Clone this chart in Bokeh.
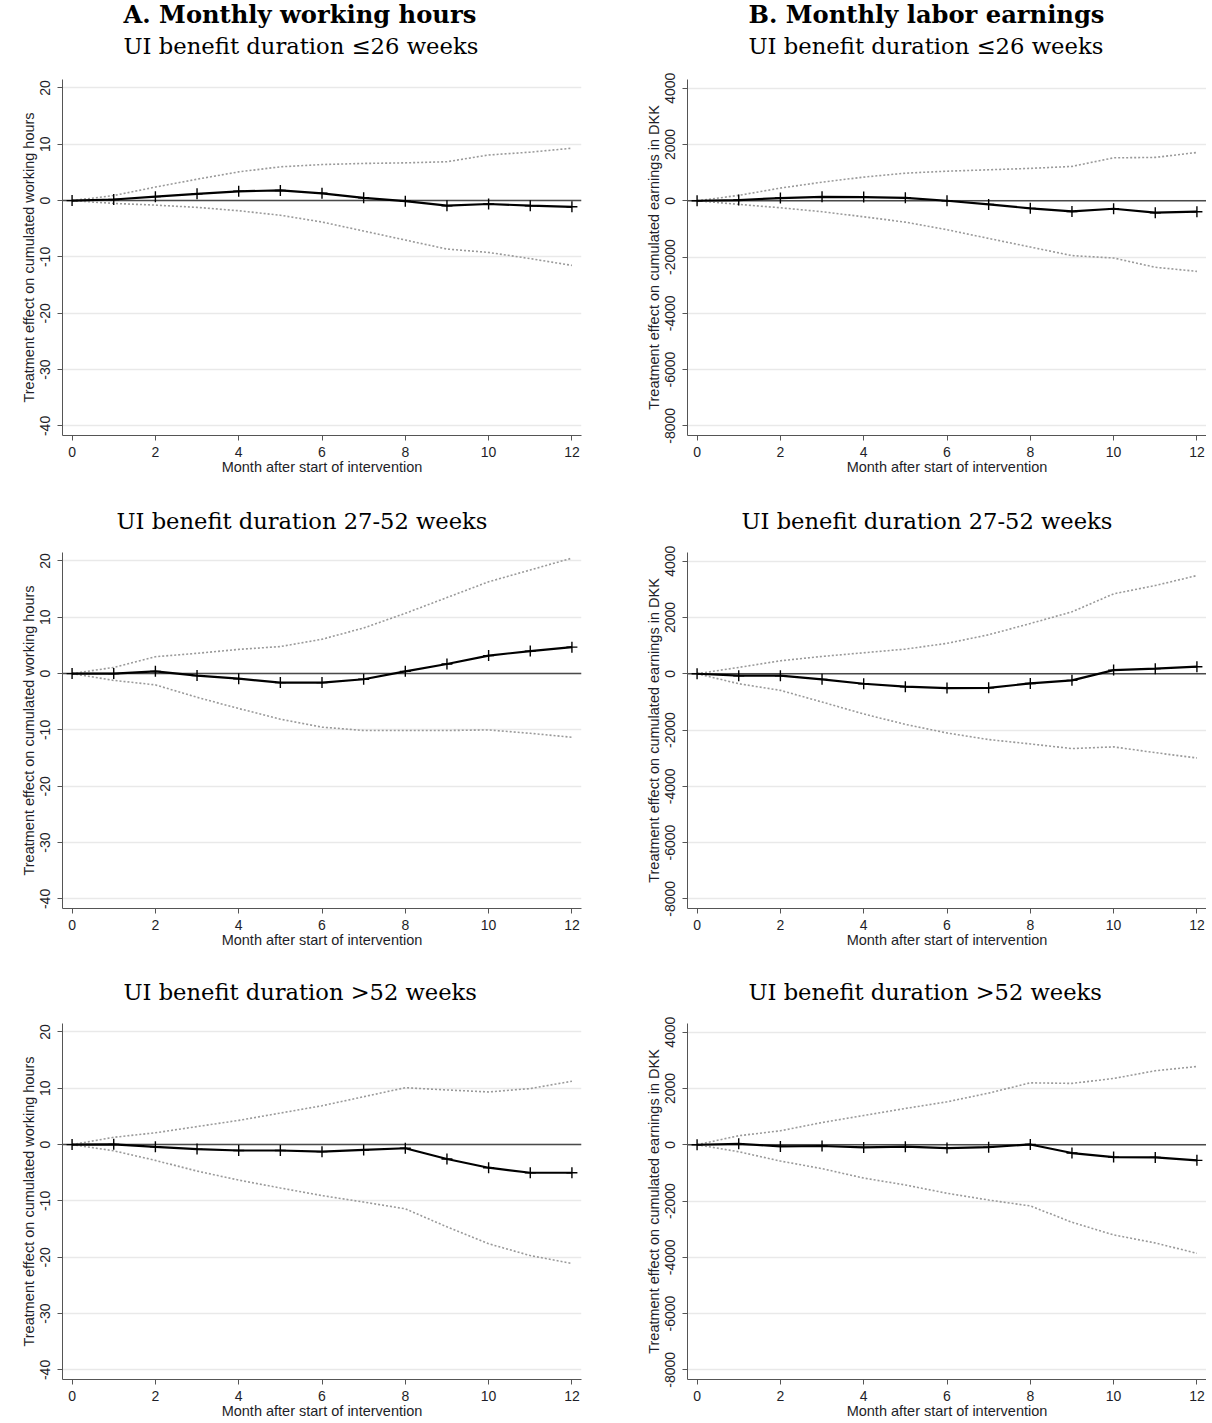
import math
from bokeh.plotting import figure
from bokeh.models import Range1d, FixedTicker, Span, Title
from bokeh.layouts import gridplot
from bokeh.embed import file_html
from bokeh.resources import INLINE

# ---------------- data ----------------
months = [0, 1, 2, 3, 4, 5, 6, 7, 8, 9, 10, 11, 12]

panel_titles = ["A. Monthly working hours", "B. Monthly labor earnings"]
row_titles = ["UI benefit duration \u226426 weeks",
              "UI benefit duration 27-52 weeks",
              "UI benefit duration >52 weeks"]
x_label = "Month after start of intervention"
y_labels = ["Treatment effect on cumulated working hours",
            "Treatment effect on cumulated earnings in DKK"]
x_ticks = [0, 2, 4, 6, 8, 10, 12]
hours_ticks = [-40, -30, -20, -10, 0, 10, 20]
hours_tick_labels = ["-40", "-30", "-20", "-10", "0", "10", "20"]
dkk_ticks = [-8000, -6000, -4000, -2000, 0, 2000, 4000]
dkk_tick_labels = ["-8000", "-6000", "-4000", "-2000", "0", "2000", "4000"]

# A: monthly working hours
hours_le26_est = [0, 0.2, 0.7, 1.2, 1.65, 1.8, 1.3, 0.5, -0.1, -0.9, -0.6, -0.9, -1.1]
hours_le26_hi = [0, 0.9, 2.4, 3.8, 5.1, 6.0, 6.4, 6.6, 6.7, 6.9, 8.1, 8.6, 9.3]
hours_le26_lo = [0, -0.5, -0.8, -1.2, -1.8, -2.6, -3.8, -5.4, -7.0, -8.6, -9.2, -10.3, -11.5]

hours_27_52_est = [0, 0, 0.4, -0.35, -0.9, -1.6, -1.6, -1.0, 0.4, 1.7, 3.2, 4.0, 4.7]
hours_27_52_hi = [0, 1.1, 3.0, 3.6, 4.3, 4.8, 6.1, 8.1, 10.7, 13.5, 16.3, 18.4, 20.5]
hours_27_52_lo = [0, -1.2, -2.0, -4.2, -6.2, -8.1, -9.5, -10.1, -10.1, -10.1, -10.0, -10.6, -11.3]

hours_gt52_est = [0, 0.05, -0.4, -0.8, -1.05, -1.05, -1.25, -0.95, -0.65, -2.55, -4.1, -5.0, -5.0]
hours_gt52_hi = [0, 1.3, 2.1, 3.2, 4.3, 5.6, 6.9, 8.5, 10.1, 9.7, 9.35, 9.95, 11.25]
hours_gt52_lo = [0, -1.1, -2.8, -4.7, -6.3, -7.7, -9.05, -10.2, -11.4, -14.6, -17.6, -19.7, -21.1]

# B: monthly labor earnings (DKK)
dkk_le26_est = [0, 25, 95, 140, 130, 105, 0, -130, -270, -380, -285, -425, -390]
dkk_le26_hi = [0, 190, 450, 660, 840, 980, 1050, 1100, 1150, 1220, 1525, 1540, 1715]
dkk_le26_lo = [0, -130, -250, -390, -570, -760, -1030, -1340, -1645, -1950, -2035, -2365, -2510]

dkk_27_52_est = [0, -70, -70, -200, -355, -460, -510, -500, -345, -235, 130, 180, 250]
dkk_27_52_hi = [0, 225, 460, 615, 745, 875, 1080, 1385, 1785, 2200, 2840, 3135, 3490]
dkk_27_52_lo = [0, -355, -590, -1005, -1430, -1800, -2105, -2340, -2495, -2660, -2600, -2805, -2995]

dkk_gt52_est = [0, 35, -60, -45, -95, -70, -120, -85, 10, -295, -440, -450, -555]
dkk_gt52_hi = [0, 320, 495, 790, 1040, 1290, 1525, 1835, 2200, 2180, 2355, 2630, 2780]
dkk_gt52_lo = [0, -250, -580, -850, -1185, -1430, -1725, -1965, -2175, -2755, -3205, -3490, -3860]

hours_series = [(hours_le26_est, hours_le26_lo, hours_le26_hi),
                (hours_27_52_est, hours_27_52_lo, hours_27_52_hi),
                (hours_gt52_est, hours_gt52_lo, hours_gt52_hi)]
dkk_series = [(dkk_le26_est, dkk_le26_lo, dkk_le26_hi),
              (dkk_27_52_est, dkk_27_52_lo, dkk_27_52_hi),
              (dkk_gt52_est, dkk_gt52_lo, dkk_gt52_hi)]

# ---------------- styling / layout ----------------
FRAME_W = 519
FRAME_H = 356
TOPS = [79, 74, 72]
BOTTOM = 43
TITLE_OFFSETS = [61, 54, 61]
SANS = "Liberation Sans"
SERIF = "DejaVu Serif"


def make_panel(col, r, est, lo, hi):
    if col == 0:
        bl, br = 62, 19
        yr = Range1d(-41.7, 21.5)
        yt, ytl = hours_ticks, hours_tick_labels
    else:
        bl, br = 87, 0
        yr = Range1d(-8344, 4309)
        yt, ytl = dkk_ticks, dkk_tick_labels
    h = TOPS[r] + FRAME_H + BOTTOM
    p = figure(width=bl + FRAME_W + br, height=h,
               x_range=Range1d(-0.23, 12.23), y_range=yr,
               output_backend="svg", toolbar_location=None,
               min_border_left=bl, min_border_right=br,
               min_border_top=TOPS[r], min_border_bottom=BOTTOM)
    p.outline_line_color = None
    p.background_fill_color = "white"
    p.border_fill_color = "white"

    p.xgrid.visible = False
    p.ygrid.ticker = FixedTicker(ticks=yt)
    p.ygrid.grid_line_color = "#e9e9e9"
    p.ygrid.grid_line_width = 1.5

    p.xaxis.ticker = FixedTicker(ticks=x_ticks)
    p.yaxis.ticker = FixedTicker(ticks=yt)
    p.yaxis.major_label_overrides = {t: s for t, s in zip(yt, ytl)}
    for ax in (p.xaxis[0], p.yaxis[0]):
        ax.axis_line_color = "#555555"
        ax.major_tick_line_color = "#555555"
        ax.major_tick_out = 5
        ax.major_tick_in = 0
        ax.minor_tick_line_color = None
        ax.major_label_text_font = SANS
        ax.major_label_text_font_size = "14px"
        ax.major_label_text_color = "#1e1e28"
        ax.axis_label_text_font = SANS
        ax.axis_label_text_font_size = "14.5px"
        ax.axis_label_text_font_style = "normal"
        ax.axis_label_text_color = "#1e1e28"
    p.xaxis.axis_label = x_label
    p.xaxis.major_label_standoff = 6
    p.xaxis.axis_label_standoff = -1
    p.yaxis.axis_label = y_labels[col]
    p.yaxis.major_label_orientation = "parallel"
    p.yaxis.major_label_standoff = 7
    p.yaxis.axis_label_standoff = 1

    zero = Span(location=0, dimension="width", line_color="#4a4a4a",
                line_width=1.5, level="underlay")
    p.add_layout(zero)

    p.line(months, hi, line_color="#9a9a9a", line_width=1.6, line_dash="2 2")
    p.line(months, lo, line_color="#9a9a9a", line_width=1.6, line_dash="2 2")
    p.line(months, est, line_color="black", line_width=2.2)
    p.scatter(months, est, marker="cross", size=11, line_color="black", line_width=1.4)

    if r == 0:
        p.add_layout(Title(text=row_titles[r], align="left", offset=TITLE_OFFSETS[r],
                           vertical_align="top", standoff=36.6,
                           text_font=SERIF, text_font_size="22.7px",
                           text_font_style="normal", text_color="black"), "above")
        p.add_layout(Title(text=panel_titles[col], align="left", offset=61,
                           vertical_align="bottom", standoff=-29.4,
                           text_font=SERIF, text_font_size="24.2px",
                           text_font_style="bold", text_color="black"), "above")
    else:
        p.add_layout(Title(text=row_titles[r], align="left", offset=TITLE_OFFSETS[r],
                           vertical_align="bottom", standoff=37,
                           text_font=SERIF, text_font_size="22.6px",
                           text_font_style="normal", text_color="black"), "above")
    return p


rows = []
for r in range(3):
    left = make_panel(0, r, *hours_series[r])
    right = make_panel(1, r, *dkk_series[r])
    rows.append([left, right])

grid = gridplot(rows, toolbar_location=None)

open("out.html", "w").write(file_html(grid, INLINE))
